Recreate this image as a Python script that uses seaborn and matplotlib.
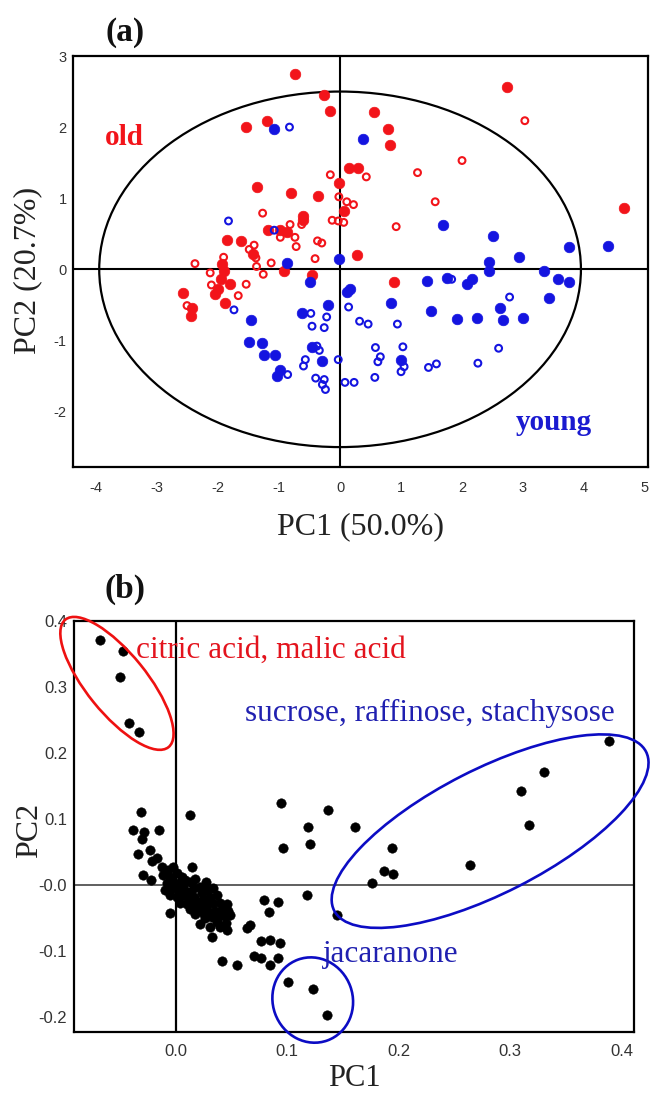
import numpy as np
import pandas as pd
import matplotlib
matplotlib.use("Agg")
import matplotlib.pyplot as plt
import matplotlib.transforms as mtransforms
from matplotlib.patches import Ellipse
import seaborn as sns

# ---------------- data: panel (a) scores ----------------
old_filled_pc1 = [-0.74, -0.26, -0.16, -1.55, -1.20, 2.73, 0.56, 0.78, 0.82,
                  0.14, 0.30, -0.01, -1.37, -0.80, -0.36, 0.07, -0.61, -0.60,
                  -1.18, -0.98, -0.87, -1.85, -1.62, -1.43, 4.66, 0.28,
                  -0.92, -0.46, 0.89, -1.93, -1.91, -1.95, -1.81, -2.00, -2.05,
                  -1.89, -2.57, -2.43, -2.44]
old_filled_pc2 = [2.75, 2.45, 2.22, 2.00, 2.09, 2.57, 2.21, 1.97, 1.75,
                  1.42, 1.43, 1.21, 1.16, 1.07, 1.03, 0.82, 0.75, 0.69,
                  0.55, 0.56, 0.52, 0.41, 0.40, 0.21, 0.86, 0.20,
                  -0.02, -0.08, -0.18, 0.07, -0.03, -0.13, -0.21, -0.28, -0.35,
                  -0.47, -0.34, -0.55, -0.66]

old_open_pc1 = [3.03, 2.00, 1.27, 0.43, -0.16, -0.02, 0.11, 0.22, 1.56, 0.92,
                -1.27, -0.13, -0.03, 0.06, -0.82, -0.63, -0.98, -0.74, -0.72,
                -1.41, -1.49, -1.38, -0.37, -0.30, -0.41, -1.13, -1.37, -1.26,
                -2.38, -2.13, -1.91, -2.11, -1.54, -1.67, -2.51]
old_open_pc2 = [2.09, 1.53, 1.36, 1.30, 1.33, 1.02, 0.95, 0.91, 0.95, 0.60,
                0.79, 0.69, 0.68, 0.66, 0.63, 0.63, 0.45, 0.45, 0.32,
                0.34, 0.28, 0.16, 0.40, 0.37, 0.15, 0.09, 0.04, -0.07,
                0.08, -0.05, 0.17, -0.22, -0.21, -0.37, -0.51]

young_filled_pc1 = [-1.08, 0.37, 1.69, 2.51, 2.93, 3.75, 4.39, 2.44, 2.44, 3.34,
                    -0.87, -0.02, -0.50, 0.11, 0.17, 1.42, 1.75, 2.08, 2.17,
                    3.57, 3.76, 3.43, 2.63, 2.67, 3.00, 2.24, 1.91, 1.49, 0.84,
                    1.00, -1.46, -1.50, -1.28, -1.24, -1.07, -0.98, -1.04,
                    -0.63, -0.19, -0.46, -0.29]
young_filled_pc2 = [1.97, 1.83, 0.62, 0.47, 0.18, 0.31, 0.33, 0.10, -0.03, -0.03,
                    0.09, 0.15, -0.18, -0.32, -0.28, -0.16, -0.12, -0.20, -0.14,
                    -0.13, -0.18, -0.40, -0.54, -0.71, -0.69, -0.68, -0.70, -0.59, -0.48,
                    -1.28, -0.71, -1.02, -1.04, -1.20, -1.21, -1.41, -1.50,
                    -0.61, -0.50, -1.09, -1.29]

young_open_pc1 = [-0.83, -1.83, -1.08, 1.83, 2.78, 0.94, 0.14, 0.32, 0.46,
                  0.58, 0.66, 0.62, 1.03, 1.05, 1.00, 0.57, 1.45, 1.58, 2.26,
                  2.60, -0.03, 0.08, 0.23, -1.74, -0.86, -0.48, -0.22, -0.46,
                  -0.26, -0.38, -0.34, -0.57, -0.60, -0.40, -0.26, -0.29, -0.24]
young_open_pc2 = [2.00, 0.68, 0.55, -0.14, -0.39, -0.77, -0.53, -0.73, -0.77,
                  -1.10, -1.23, -1.30, -1.09, -1.37, -1.44, -1.52, -1.38, -1.33, -1.32,
                  -1.11, -1.27, -1.59, -1.59, -0.57, -1.48, -0.62, -0.67, -0.80,
                  -0.82, -1.08, -1.14, -1.27, -1.36, -1.53, -1.55, -1.62, -1.69]

a_xticks = [-4, -3, -2, -1, 0, 1, 2, 3, 4, 5]
a_xticklabels = ["-4", "-3", "-2", "-1", "0", "1", "2", "3", "4", "5"]
a_yticks = [-2, -1, 0, 1, 2, 3]
a_yticklabels = ["-2", "-1", "0", "1", "2", "3"]

# ---------------- data: panel (b) loadings ----------------
load_pc1 = [-0.068, -0.047, -0.050, -0.042, -0.033,
            -0.031, 0.013, -0.038, -0.028, -0.015, -0.030, -0.034, -0.023,
            -0.017, -0.021, -0.029, -0.022, 0.015, -0.005,
            -0.0124, -0.0065, -0.0020, -0.0109, -0.0050, 0.0010, 0.0055,
            -0.0080, -0.0020, 0.0034, 0.0085, 0.0130, 0.0175,
            -0.0094, -0.0035, 0.0025, 0.0070, 0.0115, 0.0166, 0.0220, 0.0274,
            -0.0050, 0.0010, 0.0064, 0.0115, 0.0166, 0.0235, 0.0286, 0.0339,
            0.0040, 0.0100, 0.0154, 0.0205, 0.0250, 0.0310, 0.0369,
            0.0130, 0.0190, 0.0235, 0.0286, 0.0339, 0.0399, 0.0459,
            0.0175, 0.0250, 0.0304, 0.0354, 0.0414, 0.0474,
            0.0265, 0.0325, 0.0384, 0.0444, 0.0489,
            0.0369, 0.0453, 0.0310, 0.0399,
            0.022, 0.033, 0.046, 0.064, 0.067,
            0.079, 0.092, 0.084, 0.118, 0.145,
            0.077, 0.085, 0.094,
            0.042, 0.055, 0.070, 0.077, 0.085, 0.092,
            0.101, 0.123, 0.136,
            0.095, 0.137, 0.119, 0.161, 0.096, 0.121,
            0.194, 0.187, 0.195, 0.176, 0.264,
            0.389, 0.330, 0.310, 0.317]
load_pc2 = [0.372, 0.355, 0.315, 0.246, 0.233,
            0.111, 0.106, 0.084, 0.080, 0.083, 0.070, 0.047, 0.054,
            0.041, 0.036, 0.016, 0.008, 0.027, -0.042,
            0.0272, 0.0232, 0.0272, 0.0156, 0.0131, 0.0181, 0.0121,
            0.0030, 0.0055, 0.0030, 0.0080, 0.0055, 0.0091,
            -0.0071, -0.0046, -0.0071, -0.0031, -0.0096, -0.0046, -0.0020, 0.0055,
            -0.0147, -0.0172, -0.0147, -0.0197, -0.0172, -0.0122, -0.0071, -0.0046,
            -0.0273, -0.0283, -0.0263, -0.0248, -0.0222, -0.0172, -0.0147,
            -0.0364, -0.0348, -0.0323, -0.0298, -0.0273, -0.0263, -0.0283,
            -0.0434, -0.0424, -0.0399, -0.0384, -0.0374, -0.0384,
            -0.0500, -0.0485, -0.0475, -0.0465, -0.0450,
            -0.0551, -0.0576, -0.0626, -0.0636,
            -0.059, -0.078, -0.068, -0.065, -0.061,
            -0.022, -0.025, -0.040, -0.015, -0.045,
            -0.085, -0.083, -0.087,
            -0.115, -0.121, -0.108, -0.111, -0.121, -0.111,
            -0.147, -0.158, -0.197,
            0.124, 0.114, 0.089, 0.089, 0.056, 0.062,
            0.057, 0.022, 0.017, 0.003, 0.031,
            0.219, 0.171, 0.143, 0.092]

b_xticks = [0.0, 0.1, 0.2, 0.3, 0.4]
b_xticklabels = ["0.0", "0.1", "0.2", "0.3", "0.4"]
b_yticks = [-0.2, -0.1, 0.0, 0.1, 0.2, 0.3, 0.4]
b_yticklabels = ["-0.2", "-0.1", "-0.0", "0.1", "0.2", "0.3", "0.4"]

# ---------------- styling ----------------
sns.set_style("white")
plt.rcParams["font.family"] = ["Liberation Serif", "DejaVu Serif"]

RED = "#f2141a"
BLUE = "#1414e0"
TXT_RED = "#e3131d"
TXT_BLUE = "#2020b0"
ELL_BLUE = "#0c0cc4"
TICKFONT = {"family": ["Liberation Sans", "DejaVu Sans"]}

W, H = 651, 1094
fig = plt.figure(figsize=(W / 100, H / 100), dpi=100)
axA = fig.add_axes([73 / W, 1 - 467 / H, 575 / W, 411 / H])
axB = fig.add_axes([74 / W, 1 - 1031.7 / H, 560 / W, 411 / H])

# ---------------- panel (a) ----------------
groups = [
    (old_filled_pc1, old_filled_pc2, RED, True),
    (old_open_pc1, old_open_pc2, RED, False),
    (young_filled_pc1, young_filled_pc2, BLUE, True),
    (young_open_pc1, young_open_pc2, BLUE, False),
]
for xs, ys, col, filled in groups:
    df = pd.DataFrame({"PC1": xs, "PC2": ys})
    if filled:
        sns.scatterplot(data=df, x="PC1", y="PC2", ax=axA, color=col,
                        edgecolor=col, s=58, linewidth=0.5, zorder=3)
    else:
        sns.scatterplot(data=df, x="PC1", y="PC2", ax=axA, color=col,
                        facecolors="none", edgecolor=col, s=24,
                        linewidth=1.5, zorder=3)

axA.set_xlim(-4.38, 5.05)
axA.set_ylim(-2.78, 3.0)
axA.axhline(0, color="black", lw=1.5, zorder=2)
axA.axvline(0, color="black", lw=1.5, zorder=2)
axA.add_patch(Ellipse((0, 0), 7.9, 5.0, fill=False, edgecolor="black",
                      lw=1.6, zorder=2))

axA.set_xticks(a_xticks)
axA.set_xticklabels(a_xticklabels, fontdict=TICKFONT)
axA.set_xticks(np.arange(-4, 5.01, 0.5), minor=True)
axA.set_yticks(a_yticks)
axA.set_yticklabels(a_yticklabels, fontdict=TICKFONT)
axA.set_yticks(np.arange(-2.5, 3.01, 0.5), minor=True)
axA.tick_params(axis="both", which="both", direction="inout", length=5,
                width=1.2, color="black", labelsize=10.5, labelcolor="#333333")
axA.tick_params(axis="x", which="major", pad=7.5)
axA.tick_params(axis="y", which="major", pad=2)

axA.set_xlabel("PC1 (50.0%)", fontsize=23, color="#222222")
axA.set_ylabel("PC2 (20.7%)", fontsize=23, color="#222222")
axA.xaxis.label.set_va("center")
axA.yaxis.label.set_va("center")
axA.xaxis.set_label_coords(0.5, -0.146)
axA.yaxis.set_label_coords(-0.078, 0.479)

axA.text(-3.54, 1.86, "old", color=RED, fontsize=21, fontweight="bold",
         ha="center", va="center")
axA.text(3.51, -2.15, "young", color="#1a1ad0", fontsize=21,
         fontweight="bold", ha="center", va="center")
axA.text(0.09, 1.058, "(a)", transform=axA.transAxes, fontsize=24,
         fontweight="bold", ha="center", va="center", color="#111111")

for sp in axA.spines.values():
    sp.set_color("black")
    sp.set_linewidth(1.6)

# ---------------- panel (b) ----------------
dfb = pd.DataFrame({"PC1": load_pc1, "PC2": load_pc2})
sns.scatterplot(data=dfb, x="PC1", y="PC2", ax=axB, color="black",
                edgecolor="black", s=46, linewidth=0.4, zorder=3)

axB.set_xlim(-0.091, 0.411)
axB.set_ylim(-0.222, 0.401)
axB.axhline(0, color="#444444", lw=1.2, zorder=2)
axB.axvline(0, color="black", lw=1.6, zorder=2)


def px_ellipse(ax, cx, cy, a_px, b_px, angle, color):
    trans = fig.dpi_scale_trans + mtransforms.ScaledTranslation(cx, cy, ax.transData)
    e = Ellipse((0, 0), 2 * a_px / 100, 2 * b_px / 100, angle=angle,
                transform=trans, fill=False, edgecolor=color, lw=1.9,
                clip_on=False, zorder=4)
    ax.add_patch(e)


px_ellipse(axB, -0.0525, 0.306, 82, 30, -51, "#ee1111")
px_ellipse(axB, 0.282, 0.082, 175, 62, 27, ELL_BLUE)
px_ellipse(axB, 0.123, -0.174, 43, 40, -70, ELL_BLUE)

axB.text(-0.0354, 0.3565, "citric acid, malic acid", color=TXT_RED,
         fontsize=22.5, ha="left", va="center", zorder=5)
axB.text(0.0623, 0.2606, "sucrose, raffinose, stachysose", color=TXT_BLUE,
         fontsize=22.5, ha="left", va="center", zorder=5)
axB.text(0.1326, -0.1056, "jacaranone", color=TXT_BLUE, fontsize=22.5,
         ha="left", va="center", zorder=5)

axB.set_xticks(b_xticks)
axB.set_xticklabels(b_xticklabels, fontdict=TICKFONT)
axB.set_xticks(np.arange(-0.05, 0.401, 0.05), minor=True)
axB.set_yticks(b_yticks)
axB.set_yticklabels(b_yticklabels, fontdict=TICKFONT)
axB.set_yticks(np.arange(-0.15, 0.36, 0.05), minor=True)
axB.tick_params(axis="both", which="both", direction="inout", length=5,
                width=1.2, color="black", labelsize=12, labelcolor="#333333")
axB.tick_params(axis="x", which="major", pad=6.5)
axB.tick_params(axis="y", which="major", pad=2.5)

axB.set_xlabel("PC1", fontsize=22, color="#222222")
axB.set_ylabel("PC2", fontsize=23, color="#222222")
axB.xaxis.label.set_va("center")
axB.yaxis.label.set_va("center")
axB.xaxis.set_label_coords(0.5, -0.113)
axB.yaxis.set_label_coords(-0.079, 0.49)
axB.text(0.091, 1.075, "(b)", transform=axB.transAxes, fontsize=24,
         fontweight="bold", ha="center", va="center", color="#111111")

for sp in axB.spines.values():
    sp.set_color("black")
    sp.set_linewidth(1.6)

fig.savefig("out.png", dpi=100)
